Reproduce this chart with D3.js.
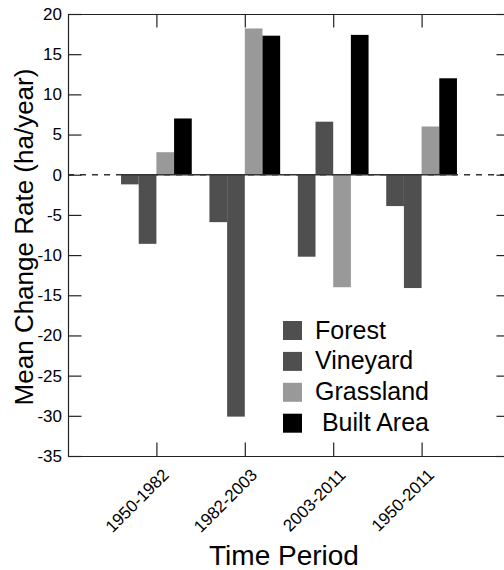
<!DOCTYPE html>
<html>
<head>
<meta charset="utf-8">
<script src="https://cdn.jsdelivr.net/npm/d3@7"></script>
<style>
  body{margin:0;background:#fff;}
  text{font-family:"Liberation Sans", Arial, sans-serif;}
</style>
</head>
<body>
<div id="chart"></div>
<script>
// data
const periods = ['1950-1982', '1982-2003', '2003-2011', '1950-2011'];
const series = ['Forest', 'Vineyard', 'Grassland', 'Built Area'];
const legendLabels = ['Forest', 'Vineyard', 'Grassland', ' Built Area'];
const forest = [-1.2, -5.9, -10.2, -3.9];
const vineyard = [-8.6, -30.1, 6.6, -14.1];
const grassland = [2.8, 18.2, -14.0, 6.0];
const builtArea = [7.0, 17.3, 17.4, 12.0];
const yTicks = [20, 15, 10, 5, 0, -5, -10, -15, -20, -25, -30, -35];

const colors = ['#4f4f4f', '#4f4f4f', '#999999', '#000000'];

const margin = {top: 14, left: 68};
const width = 442, height = 442;

const svg = d3.select('#chart').append('svg')
              .attr('width', 504)
              .attr('height', 570);

const plot = svg.append('g')
                .attr('transform', 'translate(' + margin.left + ',' + margin.top + ')');

const xScale = d3.scaleLinear().domain([0, 5]).range([0, width]);
const yScale = d3.scaleLinear().domain([-35, 20]).range([height, 0]);

const values = [forest, vineyard, grassland, builtArea];
const barW = 0.2;

//zero line, dashed all across + solid under the bars
plot.append('line')
    .attr('x1', 0).attr('x2', width)
    .attr('y1', yScale(0)).attr('y2', yScale(0))
    .attr('stroke', '#333').attr('stroke-width', 1.4)
    .attr('stroke-dasharray', '6,6');

// bars
values.forEach((vals, s) => {
  plot.append('g').attr('class', 'series-' + s)
      .selectAll('rect').data(vals).enter()
      .append('rect')
      .attr('x', (d, i) => xScale(i + 1 + (s - 2) * barW))
      .attr('width', xScale(barW) - xScale(0))
      .attr('y', d => yScale(Math.max(0, d)))
      .attr('height', d => Math.abs(yScale(d) - yScale(0)))
      .attr('fill', colors[s]);
});

plot.append('line')
    .attr('x1', xScale(1 - 2 * barW)).attr('x2', xScale(4 + 2 * barW))
    .attr('y1', yScale(0)).attr('y2', yScale(0))
    .attr('stroke', '#333').attr('stroke-width', 1.4);

// axes, ticks point inward
const tickLen = 13.5;

plot.append('g')
    .attr('class', 'y-axis-g')
    .call(d3.axisLeft(yScale).tickValues(yTicks).tickSizeInner(-tickLen).tickSizeOuter(0)
            .tickPadding(6).tickFormat(d => String(d)));

plot.append('g')
    .attr('class', 'y-axis-right')
    .attr('transform', 'translate(' + width + ',0)')
    .call(d3.axisRight(yScale).tickValues(yTicks).tickSizeInner(-tickLen).tickSizeOuter(0)
            .tickFormat(''));

plot.append('g')
    .attr('class', 'x-axis-top')
    .call(d3.axisTop(xScale).tickValues([1, 2, 3, 4]).tickSizeInner(-tickLen).tickSizeOuter(0)
            .tickFormat(''));

const xAxisG = plot.append('g')
    .attr('class', 'x-axis-g')
    .attr('transform', 'translate(0,' + height + ')')
    .call(d3.axisBottom(xScale).tickValues([1, 2, 3, 4]).tickSizeInner(-tickLen).tickSizeOuter(0)
            .tickFormat(d => periods[d - 1]));

plot.selectAll('.domain').attr('stroke', '#222').attr('stroke-width', 1.2);
plot.selectAll('.tick line').attr('stroke', '#222').attr('stroke-width', 1.2);
plot.selectAll('.tick text').attr('font-size', 17).attr('fill', '#000')
    .attr('font-family', '"Liberation Sans", Arial, sans-serif');

xAxisG.selectAll('text')
      .attr('text-anchor', 'end')
      .attr('dy', null)
      .attr('y', null)
      .attr('transform', 'translate(13,20) rotate(-45)');

// axis titles
svg.append('text')
   .attr('x', 284).attr('y', 565)
   .attr('text-anchor', 'middle')
   .attr('font-size', 28)
   .text('Time Period');

svg.append('text')
   .attr('transform', 'translate(33,237) rotate(-90)')
   .attr('text-anchor', 'middle')
   .attr('font-size', 26)
   .text('Mean Change Rate (ha/year)');

// legend
const legend = svg.append('g')
                  .attr('class', 'legend')
                  .attr('transform', 'translate(283,321)');

const rows = legend.selectAll('g').data(series).enter()
                   .append('g')
                   .attr('transform', (d, i) => 'translate(0,' + (i * 30.9) + ')');

rows.append('rect')
    .attr('width', 19).attr('height', 19)
    .attr('fill', (d, i) => colors[i]);

rows.append('text')
    .attr('x', 32).attr('y', 17.5)
    .attr('font-size', 25)
    .style('white-space', 'pre')
    .text((d, i) => legendLabels[i]);
</script>
</body>
</html>
